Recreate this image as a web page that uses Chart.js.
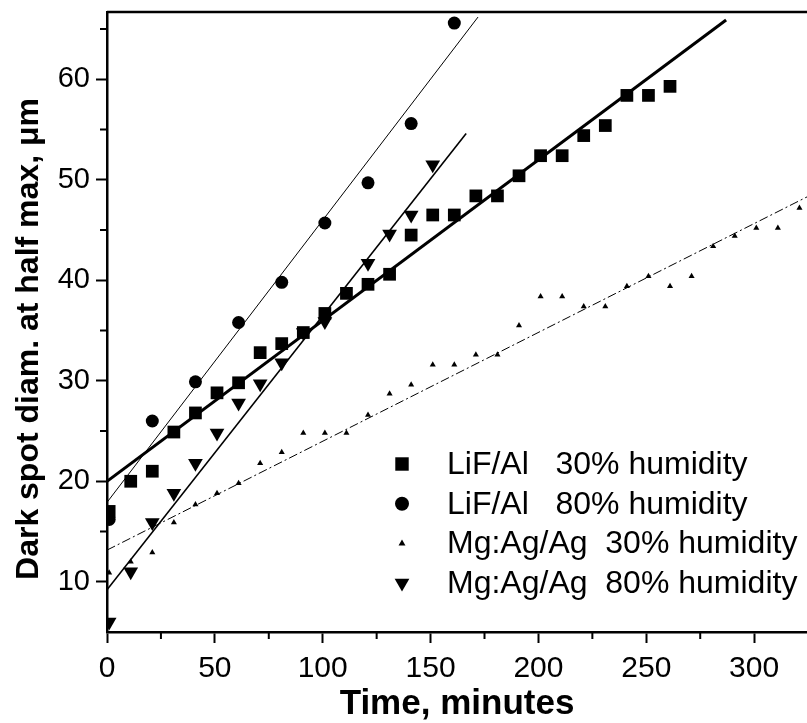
<!DOCTYPE html>
<html>
<head>
<meta charset="utf-8">
<script src="https://cdn.jsdelivr.net/npm/chart.js@4.4.0/dist/chart.umd.min.js"></script>
<style>
  html, body { margin: 0; padding: 0; background: #fff; }
</style>
</head>
<body>
<canvas id="canvas" width="807" height="723"></canvas>
<script>
  // Measured points (time in minutes, dark spot diameter in um)
  const lif30Time = [1, 11, 21, 31, 41, 51, 61, 71, 81, 91, 101, 111, 121, 131, 141, 151, 161, 171, 181, 191, 201, 211, 221, 231, 241, 251, 261];
  const lif30Diam = [17.0, 20.0, 21.0, 24.9, 26.8, 28.8, 29.8, 32.8, 33.7, 34.8, 36.7, 38.7, 39.6, 40.6, 44.5, 46.5, 46.5, 48.4, 48.4, 50.4, 52.4, 52.4, 54.4, 55.4, 58.4, 58.4, 59.3];

  const lif80Time = [1, 21, 41, 61, 81, 101, 121, 141, 161];
  const lif80Diam = [16.2, 26.0, 29.9, 35.8, 39.8, 45.7, 49.7, 55.6, 65.6];

  const mg30Time = [1, 11, 21, 31, 41, 51, 61, 71, 81, 91, 101, 111, 121, 131, 141, 151, 161, 171, 181, 191, 201, 211, 221, 231, 241, 251, 261, 271, 281, 291, 301, 311, 321];
  const mg30Diam = [10.9, 12.0, 12.9, 15.9, 17.7, 18.8, 19.8, 21.8, 22.9, 24.8, 24.8, 24.8, 26.6, 28.7, 29.6, 31.6, 31.6, 32.6, 32.6, 35.5, 38.4, 38.4, 37.4, 37.4, 39.4, 40.4, 39.4, 40.4, 43.4, 44.4, 45.2, 45.2, 47.2];

  const mg80Time = [1, 11, 21, 31, 41, 51, 61, 71, 81, 91, 101, 121, 131, 141, 151];
  const mg80Diam = [6.0, 11.0, 15.9, 18.8, 21.8, 24.8, 27.8, 29.7, 31.8, 34.8, 35.9, 41.7, 44.6, 46.5, 51.5];

  // Fit line end points
  const lif30FitTime = [0, 287];
  const lif30FitDiam = [20.0, 65.9];
  const lif80FitTime = [0, 172];
  const lif80FitDiam = [17.9, 66.2];
  const mg30FitTime = [0, 324.5];
  const mg30FitDiam = [13.15, 48.3];
  const mg80FitTime = [0, 166.5];
  const mg80FitDiam = [9.2, 54.6];

  // Axis ticks
  const xTicks = [0, 50, 100, 150, 200, 250, 300];
  const xMinor = [25, 75, 125, 175, 225, 275];
  const yTicks = [10, 20, 30, 40, 50, 60];
  const yMinor = [15, 25, 35, 45, 55, 65];

  const yTitle = 'Dark spot diam. at half max, μm';
  const legendLabels = ['LiF/Al   30% humidity', 'LiF/Al   80% humidity', 'Mg:Ag/Ag  30% humidity', 'Mg:Ag/Ag  80% humidity'];

  const FONT = '"Liberation Sans", Arial, sans-serif';
  const pts = (xs, ys) => xs.map((x, i) => ({ x: x, y: ys[i] }));

  const markerStyles = [
    { pointStyle: 'rect', radius: 9, rotation: 0 },
    { pointStyle: 'circle', radius: 6.5, rotation: 0 },
    { pointStyle: 'triangle', radius: 3.5, rotation: 0 },
    { pointStyle: 'triangle', radius: 8.5, rotation: 180 }
  ];
  const legendMarkers = [
    { pointStyle: 'rect', radius: 9.5, rotation: 0 },
    { pointStyle: 'circle', radius: 7, rotation: 0 },
    { pointStyle: 'triangle', radius: 4, rotation: 0 },
    { pointStyle: 'triangle', radius: 8.5, rotation: 180 }
  ];

  function fitLine(xs, ys, width, dash) {
    return {
      type: 'line',
      data: pts(xs, ys),
      borderColor: '#000',
      borderWidth: width,
      borderDash: dash,
      pointRadius: 0,
      fill: false,
      tension: 0
    };
  }

  function markers(xs, ys, m) {
    return {
      type: 'scatter',
      data: pts(xs, ys),
      pointStyle: m.pointStyle,
      pointRadius: m.radius,
      pointRotation: m.rotation,
      backgroundColor: '#000',
      borderColor: '#000',
      borderWidth: 0
    };
  }

  // minor ticks, top frame, y title and the in-plot legend
  const extras = {
    id: 'extras',
    afterDraw(chart) {
      const { ctx, chartArea, scales: { x, y } } = chart;
      ctx.save();
      ctx.strokeStyle = '#000';
      ctx.lineWidth = 2;
      ctx.beginPath();
      xMinor.forEach(v => {
        const px = x.getPixelForValue(v);
        ctx.moveTo(px, chartArea.bottom);
        ctx.lineTo(px, chartArea.bottom + 7);
      });
      yMinor.forEach(v => {
        const py = y.getPixelForValue(v);
        ctx.moveTo(chartArea.left, py);
        ctx.lineTo(chartArea.left - 7, py);
      });
      ctx.stroke();

      ctx.lineWidth = 2.5;
      ctx.beginPath();
      ctx.moveTo(chartArea.left, chartArea.top);
      ctx.lineTo(chartArea.right, chartArea.top);
      ctx.stroke();

      ctx.fillStyle = '#000';

      // y axis title
      ctx.save();
      ctx.translate(29, chartArea.top + 327);
      ctx.rotate(-Math.PI / 2);
      ctx.font = 'bold 32px ' + FONT;
      ctx.textAlign = 'center';
      ctx.textBaseline = 'middle';
      ctx.fillText(yTitle, 0, 0);
      ctx.restore();

      // legend
      const mx = chartArea.left + 295;
      const tx = chartArea.left + 340;
      const y0 = chartArea.top + 452;
      const gap = 39.7;
      ctx.font = '32px ' + FONT;
      ctx.textBaseline = 'middle';
      ctx.textAlign = 'left';
      legendLabels.forEach((label, i) => {
        const ly = y0 + i * gap;
        Chart.helpers.drawPoint(ctx, {
          pointStyle: legendMarkers[i].pointStyle,
          radius: legendMarkers[i].radius,
          rotation: legendMarkers[i].rotation,
          borderWidth: 0
        }, mx, ly);
        ctx.fillStyle = '#000';
        ctx.fillText(label, tx, ly + 1);
      });
      ctx.restore();
    }
  };

  const canvas = document.getElementById('canvas');
  const ctx = canvas.getContext('2d');

  new Chart(ctx, {
    data: {
      datasets: [
        fitLine(lif30FitTime, lif30FitDiam, 3, []),
        fitLine(lif80FitTime, lif80FitDiam, 1, []),
        fitLine(mg30FitTime, mg30FitDiam, 1, [9, 3, 2, 3]),
        fitLine(mg80FitTime, mg80FitDiam, 1.6, []),
        markers(lif30Time, lif30Diam, markerStyles[0]),
        markers(lif80Time, lif80Diam, markerStyles[1]),
        markers(mg30Time, mg30Diam, markerStyles[2]),
        markers(mg80Time, mg80Diam, markerStyles[3])
      ]
    },
    options: {
      responsive: false,
      animation: false,
      layout: { autoPadding: false, padding: { top: 12, right: 0, left: 0, bottom: 0 } },
      plugins: {
        legend: { display: false },
        tooltip: { enabled: false }
      },
      scales: {
        x: {
          type: 'linear',
          min: 0,
          max: 324.5,
          afterBuildTicks: s => { s.ticks = xTicks.map(v => ({ value: v })); },
          afterFit: s => { s.height = 91; s.paddingLeft = 0; s.paddingRight = 0; },
          ticks: {
            color: '#000',
            font: { family: FONT, size: 30 },
            padding: 8,
            maxRotation: 0,
            autoSkip: false
          },
          grid: { display: true, drawOnChartArea: false, tickLength: 11, tickWidth: 2, tickColor: '#000' },
          border: { display: true, color: '#000', width: 2.5 },
          title: {
            display: true,
            text: 'Time, minutes',
            color: '#000',
            font: { family: FONT, size: 35, weight: 'bold', lineHeight: 1 },
            padding: { top: 0, bottom: 1 }
          }
        },
        y: {
          type: 'linear',
          min: 5,
          max: 66.7,
          afterBuildTicks: s => { s.ticks = yTicks.map(v => ({ value: v })); },
          afterFit: s => { s.width = 107; s.paddingTop = 0; s.paddingBottom = 0; },
          ticks: {
            color: '#000',
            font: { family: FONT, size: 29 },
            padding: 6
          },
          grid: { display: true, drawOnChartArea: false, tickLength: 11, tickWidth: 2, tickColor: '#000' },
          border: { display: true, color: '#000', width: 2.5 },
          title: { display: false }
        }
      }
    },
    plugins: [extras]
  });
</script>
</body>
</html>
